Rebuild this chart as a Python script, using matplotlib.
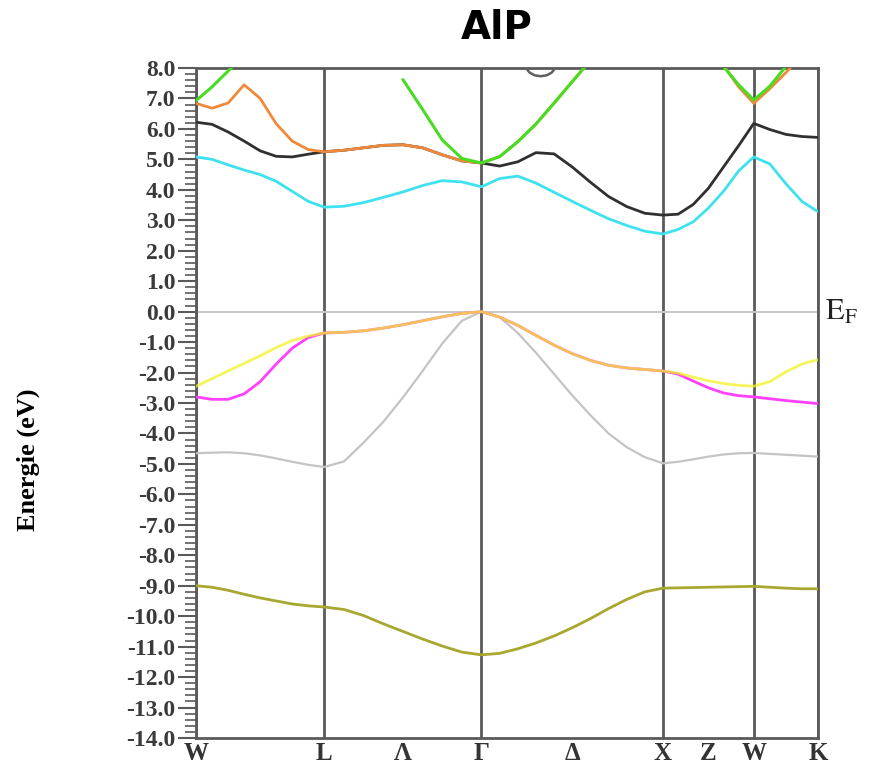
import numpy as np
import matplotlib
matplotlib.use("Agg")
import matplotlib.pyplot as plt

# high-symmetry points along the fcc path (2*pi/a units)
kpt_labels = ["W", "L", "\u039b", "\u0393", "\u0394", "X", "Z", "W", "K"]
kpt_pos = [0.0, 0.707, 1.140, 1.573, 2.073, 2.573, 2.823, 3.073, 3.427]
vertex_pos = [0.0, 0.707, 1.573, 2.573, 3.073, 3.427]
n_per_seg = [8, 8, 10, 6, 4]

# band energies (eV) on the k grid: W-L | L-G | G-X | X-W | W-K
nan = np.nan
band_s = [-9.0, -9.05, -9.15, -9.28, -9.4, -9.5, -9.6, -9.66, -9.7,
          -9.78, -9.98, -10.25, -10.5, -10.75, -10.98, -11.18, -11.27,
          -11.22, -11.07, -10.88, -10.65, -10.38, -10.08, -9.75, -9.45, -9.2, -9.08,
          -9.07, -9.06, -9.05, -9.04, -9.03, -9.02,
          -9.05, -9.08, -9.1, -9.1]
band_v1 = [-4.65, -4.63, -4.62, -4.65, -4.72, -4.82, -4.93, -5.03, -5.1,
           -4.92, -4.3, -3.62, -2.82, -1.95, -1.05, -0.3, 0.0,
           -0.18, -0.7, -1.35, -2.05, -2.75, -3.4, -4.0, -4.45, -4.78, -4.98,
           -4.93, -4.85, -4.76, -4.69, -4.65, -4.64,
           -4.67, -4.7, -4.73, -4.76]
band_v2 = [-2.8, -2.88, -2.88, -2.7, -2.3, -1.72, -1.2, -0.85, -0.7,
           -0.68, -0.63, -0.54, -0.43, -0.3, -0.17, -0.06, 0.0,
           -0.18, -0.45, -0.78, -1.1, -1.38, -1.6, -1.76, -1.85, -1.9, -1.95,
           -2.05, -2.28, -2.5, -2.67, -2.76, -2.8,
           -2.86, -2.92, -2.97, -3.02]
band_v3 = [-2.45, -2.2, -1.95, -1.7, -1.45, -1.18, -0.95, -0.8, -0.7,
           -0.68, -0.63, -0.54, -0.43, -0.3, -0.17, -0.06, 0.0,
           -0.18, -0.45, -0.78, -1.1, -1.38, -1.6, -1.76, -1.85, -1.9, -1.95,
           -2.02, -2.15, -2.27, -2.36, -2.42, -2.45,
           -2.3, -1.98, -1.72, -1.58]
band_c1 = [5.08, 5.0, 4.82, 4.65, 4.5, 4.28, 3.95, 3.62, 3.43,
           3.46, 3.58, 3.75, 3.93, 4.14, 4.3, 4.26, 4.1,
           4.37, 4.45, 4.22, 3.92, 3.62, 3.33, 3.05, 2.83, 2.64, 2.55,
           2.7, 2.95, 3.4, 3.95, 4.62, 5.08,
           4.85, 4.2, 3.62, 3.28]
band_c2 = [6.22, 6.15, 5.9, 5.6, 5.28, 5.1, 5.08, 5.17, 5.25,
           5.3, 5.38, 5.46, 5.48, 5.38, 5.15, 4.95, 4.88,
           4.78, 4.92, 5.22, 5.18, 4.75, 4.25, 3.78, 3.45, 3.23, 3.17,
           3.2, 3.52, 4.05, 4.75, 5.45, 6.18,
           5.98, 5.82, 5.75, 5.72]
band_c3 = [6.84, 6.68, 6.85, 7.45, 7.0, 6.17, 5.6, 5.32, 5.25,
           5.3, 5.38, 5.46, 5.48, 5.38, 5.15, 4.95, 4.88,
           5.09, 5.58, 6.16, 6.85, 7.55, 8.25, nan, nan, nan, nan,
           nan, nan, 8.5, 8.08, 7.38, 6.84,
           7.32, 7.85, 8.4, nan]
band_c4 = [6.93, 7.38, 7.9, 8.4, nan, nan, nan, nan, nan,
           nan, nan, nan, 7.62, 6.64, 5.64, 5.03, 4.88,
           5.09, 5.58, 6.16, 6.85, 7.55, 8.25, nan, nan, nan, nan,
           nan, nan, 8.5, 8.05, 7.45, 6.95,
           7.4, 8.05, nan, nan]

# short piece of a higher band dipping under the top of the window
arc_k = [1.805, 1.838, 1.866, 1.899, 1.932, 1.960, 1.993]
arc_e = [8.1, 7.85, 7.76, 7.73, 7.76, 7.85, 8.1]

# k grid built from the path vertices
k = [vertex_pos[0]]
for i, n in enumerate(n_per_seg):
    seg = np.linspace(vertex_pos[i], vertex_pos[i + 1], n + 1)[1:]
    k.extend(seg)
k = np.array(k)

fig = plt.figure(figsize=(8.72, 7.65), dpi=100)
ax = fig.add_axes([196 / 872, 1 - 738 / 765, 622 / 872, 670 / 765])

frame = "#5a5a5a"
for x in vertex_pos:
    ax.axvline(x, color=frame, lw=2.0, zorder=1)
ax.axhline(0.0, color="#c8c8c8", lw=1.4, zorder=1)

style = dict(solid_joinstyle="round", solid_capstyle="round")
ax.plot(k, band_s, color="#a8a830", lw=2.0, zorder=3, **style)
ax.plot(k, band_v1, color="#c4c4c4", lw=1.6, zorder=3, **style)
ax.plot(k, band_v2, color="#ff40ff", lw=2.0, zorder=3, **style)
ax.plot(k, band_v3, color="#f2f21c", lw=2.0, alpha=0.72, zorder=4, **style)
ax.plot(k, band_c1, color="#3ee2ee", lw=2.0, zorder=3, **style)
ax.plot(k, band_c2, color="#303030", lw=2.0, zorder=3, **style)
ax.plot(k, band_c3, color="#f08a3a", lw=2.0, zorder=4, **style)
ax.plot(k, band_c4, color="#48dc22", lw=2.2, zorder=5, **style)
ax.plot(arc_k, arc_e, color="#606060", lw=1.8, zorder=3, **style)

ax.set_xlim(vertex_pos[0], vertex_pos[-1])
ax.set_ylim(-14.0, 8.0)

for s in ax.spines.values():
    s.set_color(frame)
    s.set_linewidth(2.0)

yt = np.arange(-14, 9, 1.0)
ax.set_yticks(yt)
ax.set_yticklabels([f"{v:.1f}" for v in yt])
ax.set_yticks(np.arange(-14, 8.01, 0.2), minor=True)
ax.tick_params(axis="y", which="major", direction="out", length=13, width=1.5,
               color=frame, labelsize=17, labelcolor="#3a3a3a", pad=2)
ax.tick_params(axis="y", which="minor", direction="out", length=8, width=1.2,
               color=frame)
for lab in ax.get_yticklabels():
    lab.set_fontfamily("Liberation Serif")
    lab.set_fontweight("bold")

ax.set_xticks(kpt_pos)
ax.set_xticklabels(kpt_labels)
ax.tick_params(axis="x", length=0, pad=3, labelsize=18, labelcolor="#333333")
for lab in ax.get_xticklabels():
    lab.set_fontfamily("Liberation Serif")
    lab.set_fontweight("bold")

fig.text(497 / 872, 1 - 28 / 765, "AlP", ha="center", va="center",
         fontsize=28, fontweight="bold", family="DejaVu Sans")
fig.text(28 / 872, 1 - 460 / 765, "Energie (eV)", rotation=90,
         ha="center", va="center", fontsize=19, fontweight="bold",
         family="Liberation Serif")

plt.rcParams["mathtext.fontset"] = "stix"
ax.text(vertex_pos[-1] + 0.04, 0.0, r"$\mathrm{E}_{\mathrm{F}}$",
        ha="left", va="center", fontsize=22, color="#222222")

fig.savefig("out.png", dpi=100)
